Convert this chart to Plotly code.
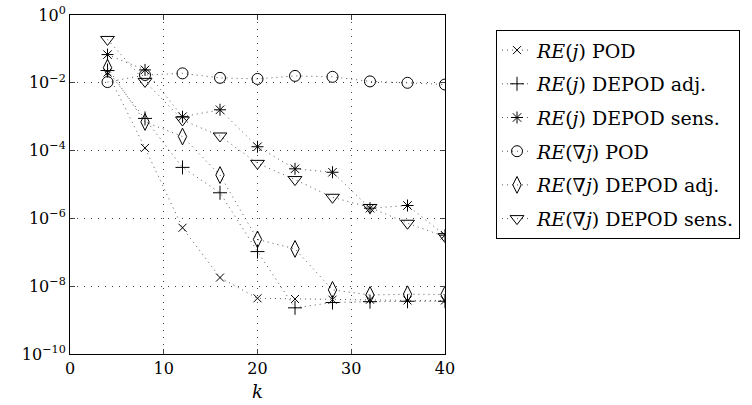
import plotly.graph_objects as go

k = [4, 8, 12, 16, 20, 24, 28, 32, 36, 40]

re_j_pod = [2.0e-2, 1.2e-4, 5.3e-7, 1.8e-8, 4.4e-9, 4.2e-9, 4.0e-9, 4.0e-9, 3.8e-9, 3.8e-9]
re_j_adj = [2.3e-2, 8.9e-4, 3.2e-5, 5.7e-6, 1.05e-7, 2.3e-9, 3.3e-9, 3.5e-9, 3.6e-9, 3.6e-9]
re_j_sens = [6.8e-2, 2.4e-2, 1.0e-3, 1.6e-3, 1.3e-4, 2.9e-5, 2.3e-5, 2.0e-6, 2.4e-6, 3.2e-7]
re_dj_pod = [1.05e-2, 1.7e-2, 1.9e-2, 1.4e-2, 1.3e-2, 1.6e-2, 1.5e-2, 1.1e-2, 1.0e-2, 8.9e-3]
re_dj_adj = [2.8e-2, 7.0e-4, 2.6e-4, 1.9e-5, 2.4e-7, 1.26e-7, 7.8e-9, 5.5e-9, 5.8e-9, 5.7e-9]
re_dj_sens = [1.9e-1, 1.1e-2, 8.0e-4, 2.7e-4, 4.2e-5, 1.4e-5, 4.2e-6, 2.1e-6, 7.2e-7, 2.9e-7]

names = [
    "<i>RE</i>(<i>j</i>) POD",
    "<i>RE</i>(<i>j</i>) DEPOD adj.",
    "<i>RE</i>(<i>j</i>) DEPOD sens.",
    "<i>RE</i>(∇<i>j</i>) POD",
    "<i>RE</i>(∇<i>j</i>) DEPOD adj.",
    "<i>RE</i>(∇<i>j</i>) DEPOD sens.",
]
series = [re_j_pod, re_j_adj, re_j_sens, re_dj_pod, re_dj_adj, re_dj_sens]
symbols = ["x-thin-open", "cross-thin-open", "asterisk-open", "circle-open",
           "diamond-tall-open", "triangle-down-open"]
sizes = [8, 10, 10, 11, 12, 12]

y_tickvals = [1e0, 1e-2, 1e-4, 1e-6, 1e-8, 1e-10]
y_ticktext = ["10<sup>0</sup>", "10<sup>−2</sup>", "10<sup>−4</sup>",
              "10<sup>−6</sup>", "10<sup>−8</sup>", "10<sup>−10</sup>"]
x_tickvals = [0, 10, 20, 30, 40]

fig = go.Figure()
for i, (nm, ys, sym, sz) in enumerate(zip(names, series, symbols, sizes)):
    fig.add_trace(go.Scatter(
        x=k, y=ys, name=nm, mode="lines+markers", legendgroup=str(i),
        line=dict(color="#555", width=1, dash="1px,4px"),
        marker=dict(symbol=sym, size=sz, color="black",
                    line=dict(color="black", width=1)),
    ))

font = "DejaVu Serif"
fig.update_layout(
    width=752, height=405,
    margin=dict(l=70, r=307, t=15, b=51),
    paper_bgcolor="white", plot_bgcolor="white",
    font=dict(family=font, size=16, color="black"),
    showlegend=True,
    legend=dict(x=1.136, y=0.955, xanchor="left", yanchor="top",
                bordercolor="black", borderwidth=1, bgcolor="white",
                font=dict(family=font, size=19), tracegroupgap=6, itemwidth=30),
    xaxis=dict(range=[0, 40], tickvals=x_tickvals, ticks="inside", ticklen=5,
               showline=True, linecolor="black", linewidth=1, mirror="ticks",
               showgrid=True, gridcolor="#444", griddash="1px,6px", gridwidth=1,
               zeroline=False, tickfont=dict(family=font, size=16), automargin=False,
               title=dict(text="<i>k</i>", font=dict(family=font, size=18), standoff=8)),
    yaxis=dict(type="log", range=[-10, 0], tickvals=y_tickvals, ticktext=y_ticktext,
               ticks="inside", ticklen=5, automargin=False,
               showline=True, linecolor="black", linewidth=1, mirror="ticks",
               showgrid=True, gridcolor="#444", griddash="1px,6px", gridwidth=1,
               zeroline=False, tickfont=dict(family=font, size=16)),
)

fig.write_html("out.html")
